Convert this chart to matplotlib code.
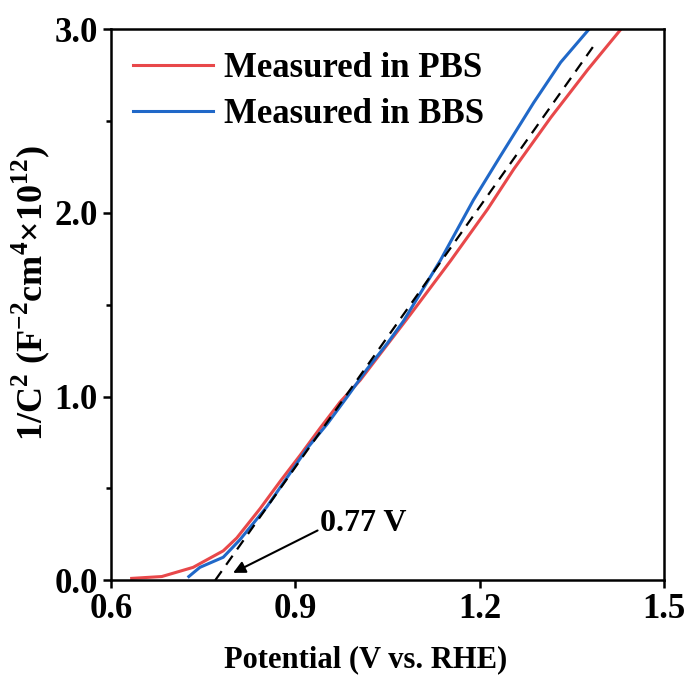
import matplotlib
matplotlib.use('Agg')
import matplotlib.pyplot as plt
from matplotlib.ticker import MultipleLocator

plt.rcParams['font.family'] = 'Liberation Serif'
plt.rcParams['font.weight'] = 'bold'
plt.rcParams['mathtext.fontset'] = 'custom'
plt.rcParams['mathtext.rm'] = 'Liberation Serif:bold'
plt.rcParams['mathtext.bf'] = 'Liberation Serif:bold'

# PBS curve (red)
pbs_v = [0.634, 0.683, 0.734, 0.783, 0.805, 0.843, 0.876, 0.908, 0.941, 0.973,
         1.006, 1.039, 1.087, 1.153, 1.213, 1.256, 1.316, 1.376, 1.430]
pbs_c = [0.01, 0.02, 0.07, 0.16, 0.23, 0.39, 0.54, 0.68, 0.83, 0.97,
         1.09, 1.235, 1.445, 1.74, 2.02, 2.24, 2.52, 2.78, 3.0]

# BBS curve (blue)
bbs_v = [0.727, 0.745, 0.783, 0.810, 0.854, 0.887, 0.920, 0.952, 0.985, 1.017,
         1.050, 1.076, 1.136, 1.190, 1.234, 1.288, 1.332, 1.378]
bbs_c = [0.02, 0.07, 0.125, 0.22, 0.40, 0.56, 0.72, 0.85, 1.0, 1.15,
         1.29, 1.41, 1.74, 2.07, 2.31, 2.60, 2.82, 3.0]

# linear fit (dashed)
fit_v = [0.77, 1.39]
fit_c = [0.0, 2.93]

fig = plt.figure(figsize=(6.88, 6.81), dpi=100)
ax = fig.add_axes([0.161, 0.148, 0.804, 0.809])

ax.plot(pbs_v, pbs_c, color='#e8484a', lw=2.2, label='Measured in PBS')
ax.plot(bbs_v, bbs_c, color='#2068c8', lw=2.2, label='Measured in BBS')
ax.plot(fit_v, fit_c, color='black', lw=1.6, ls=(0, (5, 3.5)))

ax.annotate('0.77 V', xy=(0.799, 0.04), xytext=(0.941, 0.31),
            fontsize=23, fontweight='bold', va='center', ha='left',
            arrowprops=dict(arrowstyle='-|>', color='black', lw=1.5,
                            mutation_scale=18, shrinkA=0, shrinkB=0,
                            relpos=(0.0, 0.3)))

ax.set_xlim(0.6, 1.5)
ax.set_ylim(0, 3.0)
ax.xaxis.set_major_locator(MultipleLocator(0.3))
ax.yaxis.set_major_locator(MultipleLocator(1.0))
ax.yaxis.set_minor_locator(MultipleLocator(0.5))
ax.xaxis.set_major_formatter(plt.FuncFormatter(lambda v, p: '%.1f' % v))
ax.yaxis.set_major_formatter(plt.FuncFormatter(lambda v, p: '%.1f' % v))

for s in ax.spines.values():
    s.set_linewidth(1.8)
ax.tick_params(which='major', direction='out', length=6, width=1.8, labelsize=25)
ax.tick_params(which='minor', direction='out', length=3.5, width=1.8)

ax.set_xlabel('Potential (V vs. RHE)', fontsize=22, fontweight='bold')
ax.xaxis.set_label_coords(0.461, -0.118)
ax.set_ylabel(r'1/C$^{2}$ (F$^{-2}$cm$^{4}$×10$^{12}$)', fontsize=26,
              fontweight='bold')
ax.yaxis.set_label_coords(-0.107, 0.521)

ax.legend(loc='upper left', bbox_to_anchor=(0.0, 1.0), frameon=False,
          fontsize=25, handlelength=2.3, handletextpad=0.3, labelspacing=0.37,
          borderaxespad=0.25)

fig.savefig('out.png', dpi=100)
